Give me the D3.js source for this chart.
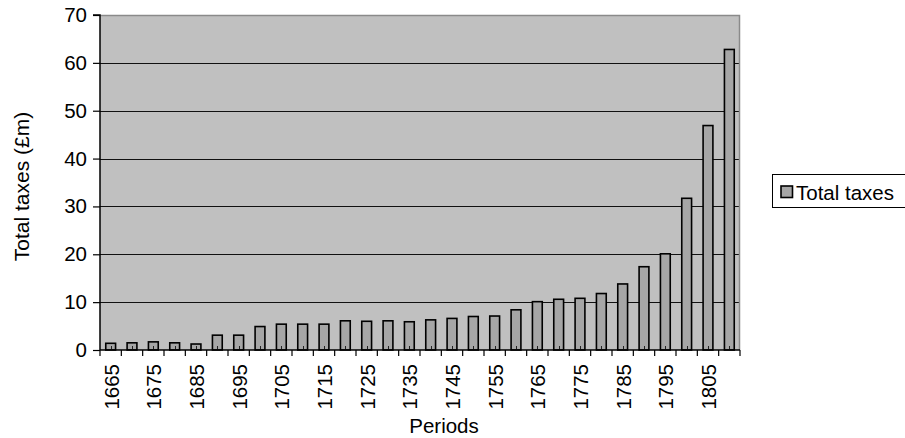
<!DOCTYPE html>
<html>
<head>
<meta charset="utf-8">
<script src="https://cdn.jsdelivr.net/npm/d3@7"></script>
<style>
  html, body { margin: 0; padding: 0; background: #fff; }
  svg { display: block; font-family: "Liberation Sans", Arial, sans-serif; }
</style>
</head>
<body>
<svg id="chart" width="905" height="438"></svg>
<script>
const periods = [1665,1670,1675,1680,1685,1690,1695,1700,1705,1710,1715,1720,1725,1730,1735,1740,1745,1750,1755,1760,1765,1770,1775,1780,1785,1790,1795,1800,1805,1810];
const totalTaxes = [1.4,1.5,1.7,1.5,1.25,3.1,3.1,4.9,5.4,5.4,5.4,6.1,6.0,6.1,5.9,6.3,6.6,7.0,7.1,8.4,10.1,10.6,10.8,11.8,13.8,17.4,20.1,31.7,46.9,62.8];
const yTicks = [0,10,20,30,40,50,60,70];
const xTickLabels = [1665,1675,1685,1695,1705,1715,1725,1735,1745,1755,1765,1775,1785,1795,1805];
const seriesName = "Total taxes";

const svg = d3.select("#chart");
const L = 100, R = 740, T = 15, B = 350;
const FS = 20.5;

const x = d3.scaleBand().domain(periods).range([L, R]).padding(0);
const y = d3.scaleLinear().domain([0, 70]).range([B, T]);

// plot background
svg.append("rect").attr("x", L).attr("y", T).attr("width", R - L).attr("height", B - T)
  .attr("fill", "#c0c0c0");

// gridlines
svg.append("g").selectAll("line").data(yTicks.filter(d => d > 0 && d < 70)).join("line")
  .attr("x1", L).attr("x2", R)
  .attr("y1", d => Math.round(y(d)) + 0.5).attr("y2", d => Math.round(y(d)) + 0.5)
  .attr("stroke", "#111").attr("stroke-width", 1);

// top and right border
svg.append("path")
  .attr("d", `M${L},${T + 0.5}H${R - 0.5}V${B}`)
  .attr("fill", "none").attr("stroke", "#8a8a8a").attr("stroke-width", 1.5);

// bars
const bw = x.bandwidth() * 0.46;
svg.append("g").selectAll("rect").data(periods).join("rect")
  .attr("x", (d) => x(d) + x.bandwidth() / 2 - bw / 2)
  .attr("y", (d, i) => y(totalTaxes[i]))
  .attr("width", bw)
  .attr("height", (d, i) => B - y(totalTaxes[i]))
  .attr("fill", "#a6a6a6")
  .attr("stroke", "#000")
  .attr("stroke-width", 1.6);

// small inner marks at category centers
svg.append("g").selectAll("line").data(periods).join("line")
  .attr("x1", d => Math.round(x(d) + x.bandwidth() / 2) + 0.5)
  .attr("x2", d => Math.round(x(d) + x.bandwidth() / 2) + 0.5)
  .attr("y1", B).attr("y2", B - 4)
  .attr("stroke", "#222").attr("stroke-width", 1);

// y axis
const yAxis = d3.axisLeft(y).tickValues(yTicks).tickSize(7).tickPadding(6);
const gy = svg.append("g").attr("transform", `translate(${L},0)`).call(yAxis);
gy.select(".domain").attr("stroke", "#000").attr("stroke-width", 1.5).attr("d", `M-7,${T}H0V${B}`);
gy.selectAll(".tick line").attr("stroke", "#000").attr("stroke-width", 1.2);
gy.selectAll(".tick text").attr("font-size", FS).attr("fill", "#000")
  .attr("font-family", "Liberation Sans, Arial, sans-serif");

// x axis line
svg.append("line").attr("x1", L).attr("x2", R).attr("y1", B).attr("y2", B)
  .attr("stroke", "#000").attr("stroke-width", 1.5);
// x ticks at category boundaries
const bounds = periods.map(d => x(d)).concat([x(periods[periods.length - 1]) + x.bandwidth()]);
svg.append("g").selectAll("line").data(bounds).join("line")
  .attr("x1", d => d).attr("x2", d => d)
  .attr("y1", B).attr("y2", B + 6)
  .attr("stroke", "#000").attr("stroke-width", 1.2);

// x labels
svg.append("g").selectAll("text").data(xTickLabels).join("text")
  .attr("transform", d => `translate(${x(d) + x.bandwidth() / 2 + 8},${B + 14}) rotate(-90)`)
  .attr("text-anchor", "end")
  .attr("font-size", FS)
  .attr("fill", "#000")
  .text(d => d);

// axis titles
svg.append("text")
  .attr("transform", `translate(29,${(T + B) / 2 + 4}) rotate(-90)`)
  .attr("text-anchor", "middle")
  .attr("font-size", 21)
  .attr("fill", "#000")
  .text("Total taxes (£m)");

svg.append("text")
  .attr("x", 444).attr("y", 433)
  .attr("text-anchor", "middle")
  .attr("font-size", FS)
  .attr("fill", "#000")
  .text("Periods");

// legend
const lg = svg.append("g");
lg.append("rect").attr("x", 772.5).attr("y", 174.5).attr("width", 140).attr("height", 33)
  .attr("fill", "#fff").attr("stroke", "#000").attr("stroke-width", 1);
lg.append("rect").attr("x", 781).attr("y", 186).attr("width", 11.5).attr("height", 11.5)
  .attr("fill", "#a6a6a6").attr("stroke", "#000").attr("stroke-width", 1.6);
lg.append("text").attr("x", 796).attr("y", 200).attr("font-size", FS).attr("fill", "#000")
  .text(seriesName);
</script>
</body>
</html>
